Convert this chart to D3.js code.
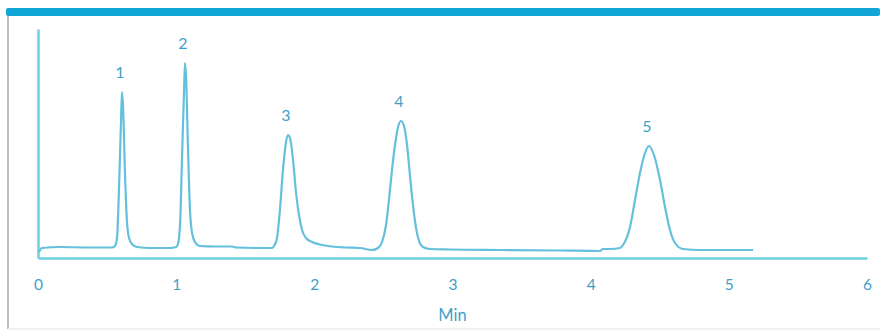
<!DOCTYPE html>
<html>
<head>
<meta charset="utf-8">
<script src="https://cdn.jsdelivr.net/npm/d3@7"></script>
<style>
  html, body { margin: 0; padding: 0; background: #fff; }
  svg { display: block; font-family: Lato, "Open Sans", sans-serif; }
</style>
</head>
<body>
<svg id="chart" width="880" height="332"></svg>
<script>
const traceTime = [
  0.007, 0.029, 0.159, 0.376, 0.536,
  0.557, 0.572, 0.586, 0.601, 0.608, 0.615, 0.630, 0.644, 0.659, 0.680, 0.717, 0.811, 0.955, 0.999,
  1.013, 1.028, 1.042, 1.057, 1.064, 1.071, 1.086, 1.100, 1.115, 1.136, 1.172, 1.281, 1.404, 1.433, 1.607, 1.694,
  1.708, 1.730, 1.751, 1.773, 1.795, 1.809, 1.824, 1.846, 1.867, 1.889, 1.911, 1.940, 1.983, 2.041, 2.128, 2.222, 2.330,
  2.417, 2.461, 2.490, 2.519, 2.540, 2.562, 2.584, 2.606, 2.627, 2.649, 2.671, 2.692, 2.714, 2.736, 2.758, 2.786, 2.837, 2.982,
  3.344, 3.778, 4.067,
  4.089, 4.140, 4.212, 4.234, 4.285, 4.321, 4.357, 4.393, 4.422, 4.458, 4.502, 4.538, 4.574, 4.610, 4.668, 4.791, 5.175
];
const traceSignal = [
  6, 10, 11, 10.5, 10.5,
  12, 20, 68, 138, 166, 153, 83, 36, 20, 14, 11, 10, 10, 11,
  14, 33, 98, 168, 195, 183, 108, 48, 25, 16, 12, 11.5, 11.5, 10.5, 10, 10,
  12, 20, 48, 88, 116, 123, 120, 98, 66, 43, 28, 20, 16, 13.5, 11.5, 10.5, 10,
  8, 10, 16, 33, 58, 88, 113, 131, 137, 132, 113, 83, 53, 30, 17, 11, 9, 8.5,
  8, 7.5, 7,
  9, 9, 10, 13, 31, 58, 85, 105, 112, 103, 78, 51, 28, 15, 9, 8, 8
];
const peakLabels = ['1', '2', '3', '4', '5'];
const peakTimes = [0.608, 1.064, 1.809, 2.627, 4.422];
const xTicks = [0, 1, 2, 3, 4, 5, 6];
const xTitle = 'Min';

const W = 880, H = 332;
const BLUE = '#12a6d7', LINE = '#64c0dc', AXIS = '#6ccfe0', TXT = '#3f9fca';

const svg = d3.select('#chart');

// cadre et bandeau supérieur
svg.append('rect').attr('x', 6).attr('y', 8).attr('width', W - 6).attr('height', 8)
  .attr('rx', 2).attr('fill', BLUE);
svg.append('line').attr('x1', 8).attr('x2', 8).attr('y1', 16).attr('y2', 329)
  .attr('stroke', '#bdbdbd').attr('stroke-width', 2);
svg.append('line').attr('x1', 8).attr('x2', W).attr('y1', 329).attr('y2', 329)
  .attr('stroke', '#ececec').attr('stroke-width', 1.5);

const x = d3.scaleLinear().domain([0, 6]).range([38, 867]);
const y = d3.scaleLinear().domain([0, 229]).range([258, 29]);

const pts = traceTime.map((t, i) => [t, traceSignal[i]]);

// axes
const xAxis = svg.append('g').attr('transform', `translate(0,${y(0)})`)
  .call(d3.axisBottom(x).tickValues(xTicks).tickFormat(d3.format('d')).tickSize(0).tickSizeOuter(0).tickPadding(21));
xAxis.select('.domain').attr('stroke', AXIS).attr('stroke-width', 2.5);
xAxis.selectAll('text').attr('fill', TXT).attr('font-size', 15.5).attr('font-family', 'Lato, sans-serif');

const yAxis = svg.append('g').attr('transform', `translate(${x(0)},0)`)
  .call(d3.axisLeft(y).tickValues([]).tickSizeOuter(0));
yAxis.select('.domain').attr('stroke', AXIS).attr('stroke-width', 2.5);

svg.append('text').attr('x', (x(0) + x(6)) / 2 + 0).attr('y', 321)
  .attr('text-anchor', 'middle').attr('fill', TXT).attr('font-size', 16.5).text(xTitle);

// tracé
const line = d3.line().x(d => x(d[0])).y(d => y(d[1])).curve(d3.curveMonotoneX);
svg.append('path').datum(pts).attr('d', line)
  .attr('fill', 'none').attr('stroke', LINE).attr('stroke-width', 2.2).attr('stroke-linejoin', 'round');

// numéros des pics, placés au-dessus du sommet
svg.selectAll('.peak-lbl')
  .data(peakLabels)
  .enter().append('text')
  .attr('class', 'peak-lbl')
  .attr('x', (d, i) => x(peakTimes[i]) - 2)
  .attr('y', (d, i) => {
    const near = pts.filter(p => Math.abs(p[0] - peakTimes[i]) < 0.05);
    return y(d3.max(near, p => p[1])) - 14;
  })
  .attr('text-anchor', 'middle')
  .attr('fill', TXT)
  .attr('font-size', 16)
  .text(d => d);
</script>
</body>
</html>
